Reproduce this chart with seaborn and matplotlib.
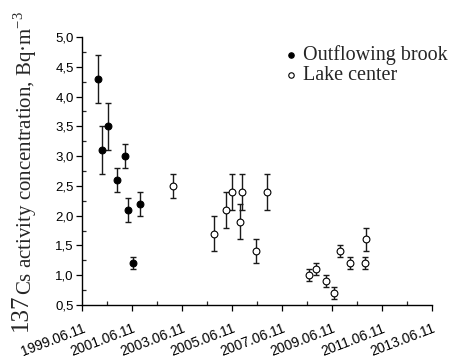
import numpy as np
import pandas as pd
import matplotlib
matplotlib.use('Agg')
import matplotlib.pyplot as plt
import matplotlib.dates as mdates
import matplotlib.ticker as mticker
import seaborn as sns

# outflowing brook (filled circles)
brook_dates = ['2000-01-30', '2000-03-28', '2000-06-18', '2000-10-30', '2001-02-25',
               '2001-04-10', '2001-06-25', '2001-10-01']
brook_vals = [4.3, 3.1, 3.5, 2.6, 3.0, 2.1, 1.2, 2.2]
brook_err = [0.4, 0.4, 0.4, 0.2, 0.2, 0.2, 0.1, 0.2]

# lake center (open circles)
lake_dates = ['2003-02-05', '2004-09-27', '2005-03-15', '2005-06-18', '2005-10-01',
              '2005-10-30', '2006-05-22', '2006-11-03', '2008-07-15', '2008-10-27',
              '2009-03-08', '2009-07-08', '2009-10-01', '2010-03-01', '2010-10-12',
              '2010-10-27']
lake_vals = [2.5, 1.7, 2.1, 2.4, 1.9, 2.4, 1.4, 2.4, 1.0, 1.1, 0.9, 0.7, 1.4, 1.2, 1.2, 1.6]
lake_err = [0.2, 0.3, 0.3, 0.3, 0.3, 0.3, 0.2, 0.3, 0.1, 0.1, 0.1, 0.1, 0.1, 0.1, 0.1, 0.2]

df_brook = pd.DataFrame({'date': pd.to_datetime(brook_dates), 'conc': brook_vals, 'err': brook_err})
df_lake = pd.DataFrame({'date': pd.to_datetime(lake_dates), 'conc': lake_vals, 'err': lake_err})

sns.set_style('ticks')
plt.rcParams['font.family'] = ['Liberation Sans', 'DejaVu Sans']
plt.rcParams['mathtext.fontset'] = 'custom'
plt.rcParams['mathtext.rm'] = 'Liberation Serif'

W, H = 454, 361
fig = plt.figure(figsize=(W / 100, H / 100), dpi=100)
ax = fig.add_axes([82 / W, 1 - 305 / H, (432 - 82) / W, (305 - 37) / H])

err_kw = dict(fmt='none', ecolor='#1a1a1a', elinewidth=1.0, capsize=2, capthick=1.0, zorder=2)
ax.errorbar(df_brook['date'], df_brook['conc'], yerr=df_brook['err'], **err_kw)
ax.errorbar(df_lake['date'], df_lake['conc'], yerr=df_lake['err'], **err_kw)

sns.scatterplot(data=df_brook, x='date', y='conc', ax=ax, marker='o', s=24,
                color='black', edgecolor='black', linewidth=0.8, zorder=3,
                label='Outflowing brook')
sns.scatterplot(data=df_lake, x='date', y='conc', ax=ax, marker='o', s=24,
                color='white', edgecolor='black', linewidth=0.8, zorder=3,
                label='Lake center')

ax.set_xlim(pd.Timestamp('1999-06-11'), pd.Timestamp('2013-06-11'))
ax.set_ylim(0.5, 5.0)

major = [pd.Timestamp(f'{y}-06-11') for y in range(1999, 2014, 2)]
minor = [pd.Timestamp(f'{y}-06-11') for y in range(2000, 2014, 2)]
ax.set_xticks(major)
ax.set_xticks(minor, minor=True)
ax.xaxis.set_major_formatter(mdates.DateFormatter('%Y.%m.%d'))
ax.yaxis.set_major_locator(mticker.MultipleLocator(0.5))
ax.yaxis.set_minor_locator(mticker.MultipleLocator(0.25))
ax.yaxis.set_major_formatter(mticker.FuncFormatter(lambda v, p: f'{v:.1f}'.replace('.', ',')))

ax.tick_params(which='major', direction='out', length=4, width=0.9, labelsize=9.5,
               colors='black', pad=2)
ax.tick_params(axis='x', which='major', labelsize=10, pad=8)
ax.tick_params(which='minor', direction='in', length=3, width=0.9)
for lab in ax.get_xticklabels():
    lab.set_rotation(21)
    lab.set_ha('right')
    lab.set_rotation_mode('anchor')

sns.despine(ax=ax)
for sp in ['left', 'bottom']:
    ax.spines[sp].set_linewidth(1.0)
    ax.spines[sp].set_color('black')

ax.set_xlabel('')
ax.set_ylabel('')
# y label: large "137" with the rest set slightly lower, as in the original
fig.text(27 / W, 1 - 331 / H, '137', rotation=90, rotation_mode='anchor',
         ha='left', va='baseline', family='Liberation Serif', fontsize=18)
fig.text(32 / W, 1 - 295 / H, 'Cs activity concentration, Bq\u00b7m$^{-3}$', rotation=90,
         rotation_mode='anchor', ha='left', va='baseline',
         family='Liberation Serif', fontsize=15)

ax.legend(loc='upper left', bbox_to_anchor=(283 / W, 1 - 45 / H), bbox_transform=fig.transFigure,
          frameon=False, borderaxespad=0, borderpad=0,
          prop={'family': 'Liberation Serif', 'size': 14.5},
          handlelength=0.8, handletextpad=0.2, labelspacing=0.05, markerscale=0.8)

plt.savefig('out.png', dpi=100)
